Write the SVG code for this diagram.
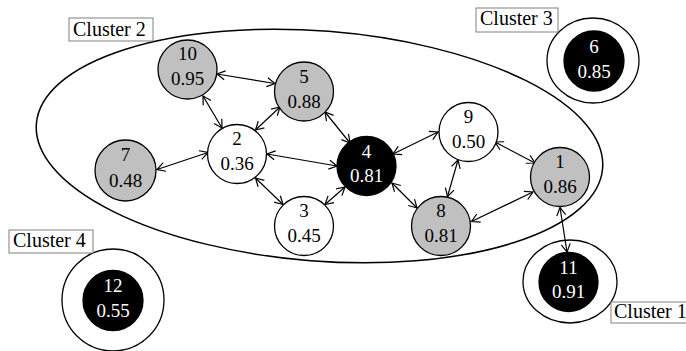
<svg xmlns="http://www.w3.org/2000/svg" width="686" height="351" viewBox="0 0 686 351">
  <style>
    .node { stroke: #000; stroke-width: 1.3; }
    .gray { fill: #c0c0c0; }
    .white { fill: #fff; }
    .black { fill: #000; }
    .ring { fill: none; stroke: #000; stroke-width: 1.3; }
    .label { font-family: "Liberation Serif", "Times New Roman", serif; font-size: 19px; text-anchor: middle; fill: #000; }
    .inv { fill: #fff; }
    .tag { fill: #fff; stroke: #808080; stroke-width: 1; }
    .tagtext { font-family: "Liberation Serif", "Times New Roman", serif; font-size: 20px; fill: #000; }
    .edge { stroke: #000; stroke-width: 1.2; fill: none; marker-start: url(#tip); marker-end: url(#tip); }
  </style>
  <defs>
    <marker id="tip" viewBox="-10 -6 11 12" refX="0" refY="0" markerWidth="11" markerHeight="12" markerUnits="userSpaceOnUse" orient="auto-start-reverse">
      <path d="M-8,-4.5 L0,0 L-8,4.5" fill="none" stroke="#000" stroke-width="1.2"/>
    </marker>
  </defs>

  <rect width="686" height="351" fill="#fff"/>

  <!-- cluster 2 boundary -->
  <g id="cluster2">
    <ellipse cx="319.5" cy="146" rx="284" ry="115" transform="rotate(4.5 319.5 146)" fill="none" stroke="#000" stroke-width="1.5"/>
    <rect class="tag" x="69" y="18" width="84" height="23"/>
    <text class="tagtext" x="73" y="35.5">Cluster 2</text>
  </g>

  <!-- connectors -->
  <g id="edges">
    <line class="edge" x1="217" y1="74" x2="275" y2="83.5"/>
    <line class="edge" x1="203" y1="96" x2="222" y2="128"/>
    <line class="edge" x1="280" y1="107" x2="255.5" y2="130"/>
    <line class="edge" x1="157" y1="169.5" x2="208" y2="152.5"/>
    <line class="edge" x1="267" y1="154" x2="337" y2="166"/>
    <line class="edge" x1="325" y1="112" x2="350" y2="143"/>
    <line class="edge" x1="255.5" y1="178" x2="283" y2="204.5"/>
    <line class="edge" x1="345" y1="187" x2="325" y2="204.5"/>
    <line class="edge" x1="393" y1="154" x2="438" y2="132"/>
    <line class="edge" x1="392" y1="183" x2="417" y2="208"/>
    <line class="edge" x1="458" y1="160" x2="447.5" y2="196.5"/>
    <line class="edge" x1="495" y1="142" x2="535" y2="163"/>
    <line class="edge" x1="471.5" y1="221.5" x2="533" y2="192"/>
    <line class="edge" x1="560" y1="207.5" x2="567" y2="252"/>
  </g>

  <g id="n10">
    <circle class="node gray" cx="187.5" cy="69.5" r="29.5"/>
    <text class="label" x="187.5" y="60">10</text>
    <text class="label" x="187.5" y="85">0.95</text>
  </g>
  <g id="n5">
    <circle class="node gray" cx="304" cy="91.5" r="29.5"/>
    <text class="label" x="304" y="82.5">5</text>
    <text class="label" x="304" y="107.5">0.88</text>
  </g>
  <g id="n2">
    <circle class="node white" cx="237" cy="154" r="29.5"/>
    <text class="label" x="237" y="145">2</text>
    <text class="label" x="237" y="170">0.36</text>
  </g>
  <g id="n7">
    <circle class="node gray" cx="125.5" cy="170.5" r="30.5"/>
    <text class="label" x="125.5" y="161">7</text>
    <text class="label" x="125.5" y="186.5">0.48</text>
  </g>
  <g id="n4">
    <circle class="node black" cx="366.5" cy="166" r="29.5"/>
    <text class="label inv" x="366.5" y="158">4</text>
    <text class="label inv" x="366.5" y="182">0.81</text>
  </g>
  <g id="n3">
    <circle class="node white" cx="304" cy="226" r="29.5"/>
    <text class="label" x="304" y="217">3</text>
    <text class="label" x="304" y="242">0.45</text>
  </g>
  <g id="n8">
    <circle class="node gray" cx="441" cy="226" r="29.5"/>
    <text class="label" x="441" y="217">8</text>
    <text class="label" x="441" y="242">0.81</text>
  </g>
  <g id="n9">
    <circle class="node white" cx="468.5" cy="132" r="29.5"/>
    <text class="label" x="468.5" y="123">9</text>
    <text class="label" x="468.5" y="148">0.50</text>
  </g>
  <g id="n1">
    <circle class="node gray" cx="560" cy="177" r="29.5"/>
    <text class="label" x="560" y="168">1</text>
    <text class="label" x="560" y="193">0.86</text>
  </g>

  <!-- cluster 3 -->
  <g id="n6">
    <ellipse class="ring" cx="593" cy="60.5" rx="46" ry="42.5"/>
    <circle class="node black" cx="594" cy="61" r="30"/>
    <text class="label inv" x="594" y="53">6</text>
    <text class="label inv" x="594" y="78">0.85</text>
    <rect class="tag" x="476" y="8" width="82" height="24"/>
    <text class="tagtext" x="480" y="25">Cluster 3</text>
  </g>

  <!-- cluster 1 -->
  <g id="n11">
    <ellipse class="ring" cx="570" cy="281.5" rx="47" ry="41.5"/>
    <circle class="node black" cx="568.5" cy="282" r="29.5"/>
    <text class="label inv" x="568.5" y="274">11</text>
    <text class="label inv" x="568.5" y="298">0.91</text>
    <rect class="tag" x="611" y="302" width="84" height="21"/>
    <text class="tagtext" x="614" y="318">Cluster 1</text>
  </g>

  <!-- cluster 4 -->
  <g id="n12">
    <circle class="ring" cx="113" cy="300" r="51"/>
    <circle class="node black" cx="113" cy="300.5" r="30"/>
    <text class="label inv" x="113" y="292">12</text>
    <text class="label inv" x="113" y="317">0.55</text>
    <rect class="tag" x="9" y="230" width="84" height="23"/>
    <text class="tagtext" x="13" y="246.5">Cluster 4</text>
  </g>
</svg>
